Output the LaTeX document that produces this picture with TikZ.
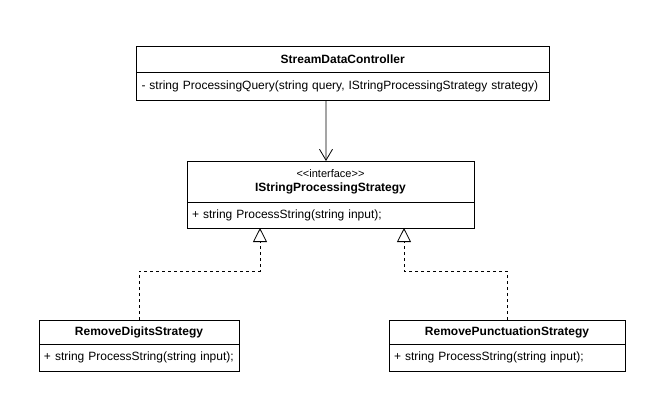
\documentclass[tikz,border=0pt]{standalone}
\usepackage{fontspec}
\setmainfont{Liberation Sans}
\usetikzlibrary{arrows.meta,positioning}

\begin{document}
\begin{tikzpicture}%
  [x=1bp, y=-1bp,
   node distance=0bp,
   every node/.style={draw=black, line width=0.8bp, outer sep=0bp,
                      inner xsep=5bp, inner ysep=0bp,
                      font=\fontsize{12bp}{14bp}\selectfont},
   classhead/.style={minimum width=#1, align=center, anchor=north,
                     font=\fontsize{12bp}{14bp}\selectfont\bfseries},
   classbody/.style={text width=#1, align=left},
   assoc/.style={-{Straight Barb[length=11bp,width=13bp]}, line width=0.8bp},
   realize/.style={-{Triangle[open,length=14bp,width=14bp]},
                   dash pattern=on 3bp off 3bp, line width=0.8bp}
  ]
\useasboundingbox (0,0) rectangle (648,411);

% controller
\node[classhead=412.5bp, minimum height=26bp] (ctrlhead) at (342.75,46) {StreamDataController};
\node[classbody=402.5bp, minimum height=28bp, below=of ctrlhead] (ctrlbody)
  {- string ProcessingQuery(string query, IStringProcessingStrategy strategy)};

% interface
\node[classhead=287bp, minimum height=41bp] (strathead) at (330.5,161)
  {{\fontsize{11bp}{14bp}\selectfont\mdseries <{}<interface>{}>}\\IStringProcessingStrategy};
\node[classbody=277bp, minimum height=26bp, below=of strathead] (stratbody)
  {+ string ProcessString(string input);};

% concrete strategies
\node[classhead=200bp, minimum height=24bp] (digitshead) at (139,320) {RemoveDigitsStrategy};
\node[classbody=190bp, minimum height=27bp, below=of digitshead] (digitsbody)
  {+ string ProcessString(string input);};
\node[classhead=236bp, minimum height=24bp] (puncthead) at (507,320) {RemovePunctuationStrategy};
\node[classbody=226bp, minimum height=27bp, below=of puncthead] (punctbody)
  {+ string ProcessString(string input);};

\draw[assoc] ([xshift=-16.75bp]ctrlbody.south) -- ([xshift=-4.5bp]strathead.north);
\draw[realize] (digitshead.north) -- ++(0,-49) -| ([xshift=-70.5bp]stratbody.south);
\draw[realize] (puncthead.north) -- ++(0,-49) -| ([xshift=73.5bp]stratbody.south);
\end{tikzpicture}
\end{document}
